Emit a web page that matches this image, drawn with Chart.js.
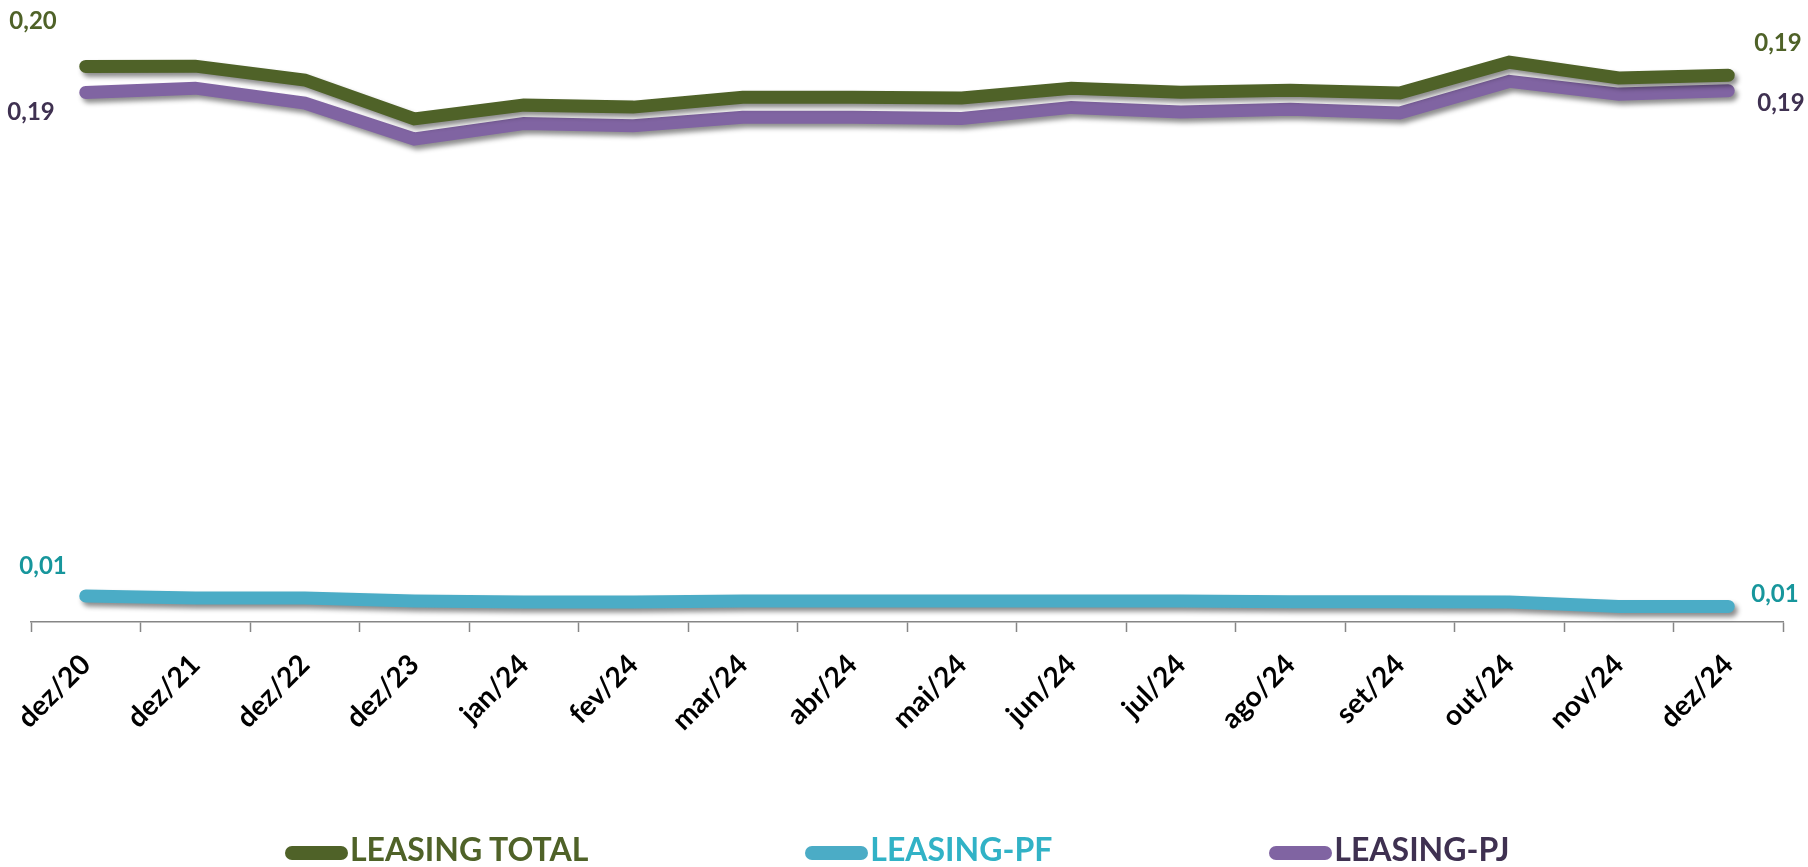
<!DOCTYPE html>
<html>
<head>
<meta charset="utf-8">
<title>Leasing</title>
<script src="https://cdn.jsdelivr.net/npm/chart.js@4.4.1/dist/chart.umd.min.js"></script>
<style>
    html, body { margin: 0; padding: 0; background: #ffffff; }
    #wrap { position: relative; width: 1808px; height: 867px; overflow: hidden; }
    #legend {
        position: absolute; left: 285px; top: 833px;
        display: flex; align-items: flex-start;
        font-family: 'Lato', sans-serif; font-weight: bold; font-size: 32px; line-height: 32px;
    }
    .lg-item { display: flex; align-items: flex-start; margin-right: 217px; white-space: nowrap; }
    .lg-item:last-child { margin-right: 0; }
    .lg-mark { width: 63px; height: 14px; border-radius: 7px; margin-top: 13px; margin-right: 2px; }
</style>
</head>
<body>
<div id="wrap">
    <canvas id="leasingChart" width="1808" height="867"></canvas>
    <div id="legend"></div>
</div>
<script>
'use strict';

// ── Dados ─────────────────────────────────────────────────────────────────────
var categories = ['dez/20', 'dez/21', 'dez/22', 'dez/23', 'jan/24', 'fev/24', 'mar/24', 'abr/24',
                  'mai/24', 'jun/24', 'jul/24', 'ago/24', 'set/24', 'out/24', 'nov/24', 'dez/24'];

var leasingTotal = [0.1967, 0.1968, 0.1919, 0.1781, 0.1830, 0.1823, 0.1858, 0.1858,
                    0.1855, 0.1890, 0.1876, 0.1883, 0.1873, 0.1982, 0.1926, 0.1936];

var leasingPF    = [0.0092, 0.0085, 0.0085, 0.0074, 0.0071, 0.0071, 0.0074, 0.0074,
                    0.0074, 0.0074, 0.0074, 0.0072, 0.0072, 0.0071, 0.0055, 0.0055];

var leasingPJ    = [0.1875, 0.1890, 0.1837, 0.1710, 0.1765, 0.1757, 0.1787, 0.1787,
                    0.1783, 0.1822, 0.1806, 0.1815, 0.1802, 0.1914, 0.1869, 0.1881];

var seriesNames  = ['LEASING TOTAL', 'LEASING-PF', 'LEASING-PJ'];

// ── Cores ─────────────────────────────────────────────────────────────────────
var COLORS = {
    total:     '#4f6228',
    pf:        '#4bacc6',
    pj:        '#8064a2',
    totalText: '#4f6228',
    pfLabel:   '#17969c',
    pfText:    '#31b2c6',
    pjText:    '#3f3151',
    axis:      '#868686'
};

// posição dos rótulos de valor (primeiro e último ponto), em px relativos ao ponto
var LABEL_OFFSETS = [
    { first: [-29, -45], last: [26, -32], color: COLORS.totalText },
    { first: [-19, -30], last: [23, -12], color: COLORS.pfLabel },
    { first: [-31,  20], last: [29,  13], color: COLORS.pjText }
];

function fmtValue(v) {
    return (Math.round(v * 100) / 100).toFixed(2).replace('.', ',');
}

// sombra projetada das linhas (estilo Excel)
var lineShadow = {
    id: 'lineShadow',
    beforeDatasetDraw: function (chart) {
        var ctx = chart.ctx;
        ctx.save();
        ctx.shadowColor = 'rgba(0,0,0,0.45)';
        ctx.shadowBlur = 5;
        ctx.shadowOffsetX = 3;
        ctx.shadowOffsetY = 4;
    },
    afterDatasetDraw: function (chart) {
        chart.ctx.restore();
    }
};

// rótulos nos extremos de cada série
var endLabels = {
    id: 'endLabels',
    afterDatasetsDraw: function (chart) {
        var ctx = chart.ctx;
        ctx.save();
        ctx.font = 'bold 24px Lato, sans-serif';
        ctx.textBaseline = 'middle';
        chart.data.datasets.forEach(function (ds, i) {
            var meta = chart.getDatasetMeta(i);
            var pts = meta.data;
            var off = LABEL_OFFSETS[i];
            var p0 = pts[0], pn = pts[pts.length - 1];
            ctx.fillStyle = off.color;
            ctx.textAlign = 'right';
            ctx.fillText(fmtValue(ds.data[0]), p0.x + off.first[0], p0.y + off.first[1]);
            ctx.textAlign = 'left';
            ctx.fillText(fmtValue(ds.data[ds.data.length - 1]), pn.x + off.last[0], pn.y + off.last[1]);
        });
        ctx.restore();
    }
};

function makeLine(label, data, color) {
    return {
        label: label,
        data: data,
        borderColor: color,
        backgroundColor: color,
        borderWidth: 13,
        borderCapStyle: 'round',
        borderJoinStyle: 'miter',
        tension: 0,
        fill: false,
        pointRadius: 0,
        pointHoverRadius: 0,
        clip: false
    };
}

var chart = new Chart(document.getElementById('leasingChart').getContext('2d'), {
    type: 'line',
    data: {
        labels: categories,
        datasets: [
            makeLine(seriesNames[0], leasingTotal, COLORS.total),
            makeLine(seriesNames[1], leasingPF, COLORS.pf),
            makeLine(seriesNames[2], leasingPJ, COLORS.pj)
        ]
    },
    options: {
        responsive: false,
        animation: false,
        devicePixelRatio: 1,
        layout: { padding: { top: 30, left: 31, right: 25, bottom: 0 } },
        plugins: {
            legend: { display: false },
            tooltip: { enabled: false }
        },
        scales: {
            x: {
                offset: true,
                grid: {
                    offset: true,
                    drawOnChartArea: false,
                    drawTicks: true,
                    tickLength: 10,
                    tickColor: COLORS.axis,
                    tickWidth: 1.5
                },
                border: { display: true, color: COLORS.axis, width: 1.5 },
                ticks: {
                    color: '#000000',
                    minRotation: 45,
                    maxRotation: 45,
                    padding: 16,
                    font: { family: 'Lato', weight: 'bold', size: 28 }
                },
                afterFit: function (scale) { scale.height = 245; }
            },
            y: {
                display: false,
                min: 0,
                max: 0.2096
            }
        }
    },
    plugins: [lineShadow, endLabels]
});

// ── Legenda HTML ──────────────────────────────────────────────────────────────
var legendTextColors = [COLORS.totalText, COLORS.pfText, COLORS.pjText];
var legendEl = document.getElementById('legend');
chart.data.datasets.forEach(function (ds, i) {
    var item = document.createElement('div');
    item.className = 'lg-item';
    var mark = document.createElement('span');
    mark.className = 'lg-mark';
    mark.style.background = ds.borderColor;
    var txt = document.createElement('span');
    txt.textContent = ds.label;
    txt.style.color = legendTextColors[i];
    item.appendChild(mark);
    item.appendChild(txt);
    legendEl.appendChild(item);
});
</script>
</body>
</html>
